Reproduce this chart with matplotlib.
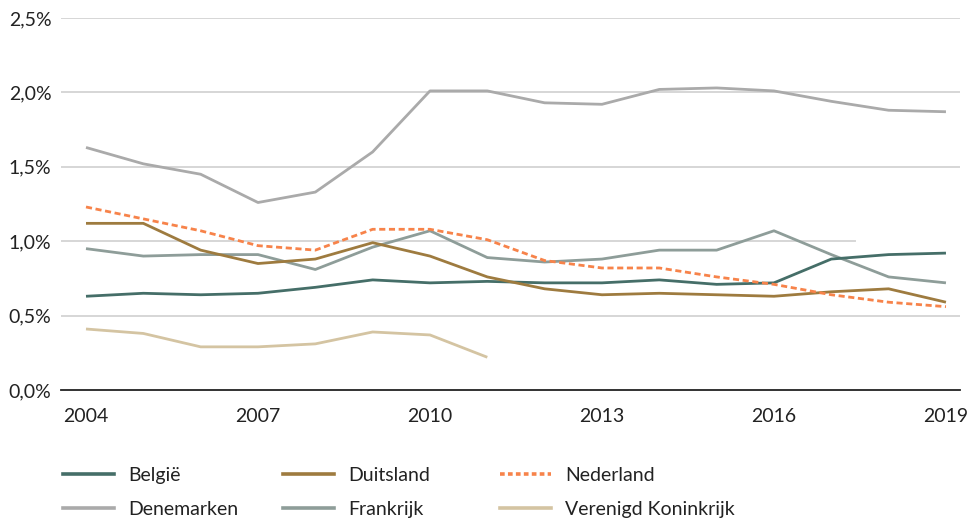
import numpy as np
import matplotlib
matplotlib.use("Agg")
import matplotlib.pyplot as plt
from matplotlib.lines import Line2D

years = list(range(2004, 2020))
belgie = [0.63, 0.65, 0.64, 0.65, 0.69, 0.74, 0.72, 0.73, 0.72, 0.72, 0.74, 0.71, 0.72, 0.88, 0.91, 0.92]
duitsland = [1.12, 1.12, 0.94, 0.85, 0.88, 0.99, 0.90, 0.76, 0.68, 0.64, 0.65, 0.64, 0.63, 0.66, 0.68, 0.59]
nederland = [1.23, 1.15, 1.07, 0.97, 0.94, 1.08, 1.08, 1.01, 0.87, 0.82, 0.82, 0.76, 0.71, 0.64, 0.59, 0.56]
denemarken = [1.63, 1.52, 1.45, 1.26, 1.33, 1.60, 2.01, 2.01, 1.93, 1.92, 2.02, 2.03, 2.01, 1.94, 1.88, 1.87]
frankrijk = [0.95, 0.90, 0.91, 0.91, 0.81, 0.96, 1.07, 0.89, 0.86, 0.88, 0.94, 0.94, 1.07, 0.91, 0.76, 0.72]
vk = [0.41, 0.38, 0.29, 0.29, 0.31, 0.39, 0.37, 0.22] + [np.nan] * 8

series_names = ["België", "Duitsland", "Nederland", "Denemarken", "Frankrijk", "Verenigd Koninkrijk"]
series_vals = [belgie, duitsland, nederland, denemarken, frankrijk, vk]
colors = ["#456e68", "#9e7b3f", "#f7834a", "#aaaaaa", "#8e9d99", "#d4c4a2"]
styles = ["-", "-", (0, (2.2, 1.3)), "-", "-", "-"]

y_ticks = [0, 0.5, 1.0, 1.5, 2.0, 2.5]
y_labels = ["0,0%", "0,5%", "1,0%", "1,5%", "2,0%", "2,5%"]
x_ticks = [2004, 2007, 2010, 2013, 2016, 2019]

plt.rcParams['font.family'] = ['Lato', 'DejaVu Sans']

fig = plt.figure(figsize=(9.67, 5.22), dpi=100)
ax = fig.add_axes([61/967, 1-390/522, (960-61)/967, (390-18)/522])

# gridlines
for v in y_ticks[1:]:
    xmax = 0.883 if v == 1.0 else 1.0
    ax.axhline(v, xmin=0, xmax=xmax, color="#d6d6d6", lw=1.4, zorder=0)

order = [3, 4, 5, 0, 1, 2]
for i in order:
    ax.plot(years, series_vals[i], color=colors[i], lw=2.0, linestyle=styles[i],
            solid_capstyle="butt", zorder=2)

ax.set_xlim(2003.564, 2019.245)
ax.set_ylim(0, 2.5)
ax.set_yticks(y_ticks)
ax.set_yticklabels(y_labels)
ax.set_xticks(x_ticks)
ax.set_xticklabels([str(x) for x in x_ticks])
ax.tick_params(axis="both", length=0, labelsize=14, colors="#222222")
ax.tick_params(axis="y", pad=7)
ax.tick_params(axis="x", pad=13)
for s in ["top", "right", "left"]:
    ax.spines[s].set_visible(False)
ax.spines["bottom"].set_color("#222222")
ax.spines["bottom"].set_linewidth(1.3)

# legend: three columns placed manually
col_x = [63/967, 283/967, 500/967]
cols = [[0, 3], [1, 4], [2, 5]]
for cx, idxs in zip(col_x, cols):
    handles = []
    for i in idxs:
        ls = (0, (1.3, 0.9)) if styles[i] != "-" else "-"
        handles.append(Line2D([0], [0], color=colors[i], lw=2.6, linestyle=ls))
    labels = [series_names[i] for i in idxs]
    leg = fig.legend(handles, labels, loc="upper left", bbox_to_anchor=(cx, 1 - 467/522),
                     frameon=False, fontsize=14, handlelength=2.63, handletextpad=0.72,
                     labelspacing=0.85, borderpad=0, borderaxespad=0)
    for t in leg.get_texts():
        t.set_color("#222222")

fig.savefig("out.png", dpi=100)
